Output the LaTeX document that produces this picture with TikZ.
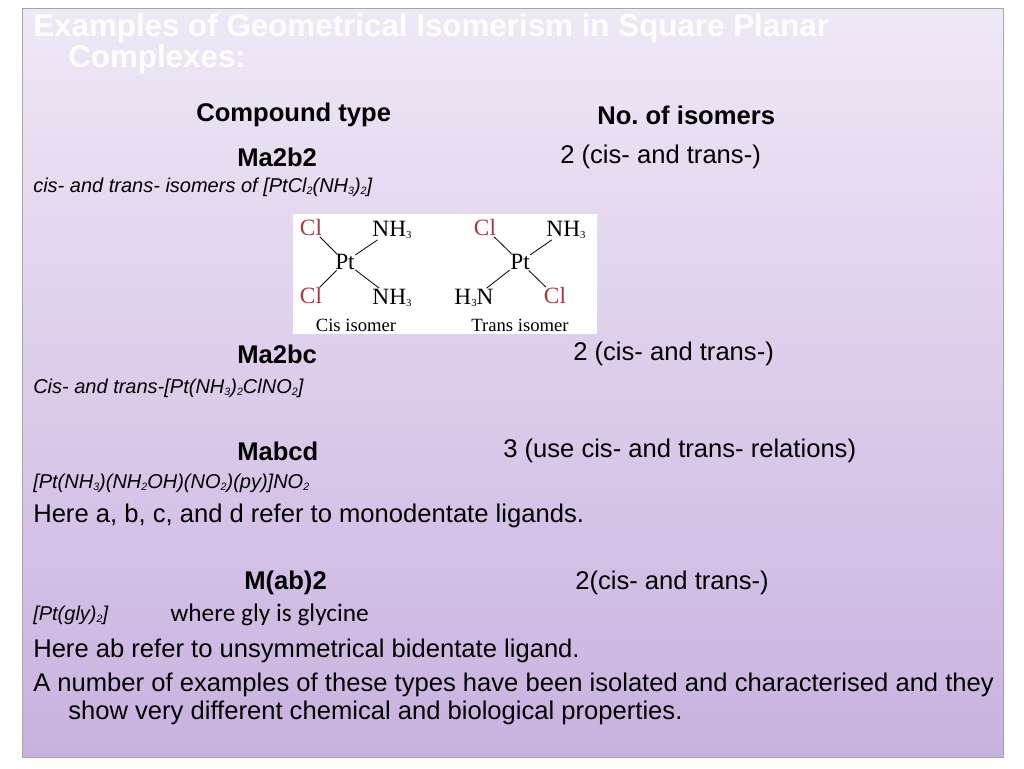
\documentclass[tikz,border=0pt]{standalone}
\usepackage{fontspec}
\setmainfont{Liberation Sans}
\newfontfamily\serifmol{Liberation Serif}
\newfontfamily\calib{Carlito}
\definecolor{bgtop}{HTML}{EFE8F6}
\definecolor{bgbot}{HTML}{C8B2DF}
\definecolor{clred}{HTML}{A33A44}
\tikzset{
 txt/.style={anchor=west,inner sep=0pt,font=\fontsize{19.2}{22}\selectfont},
 hdr/.style={txt,font=\fontsize{19.2}{22}\selectfont\bfseries},
 sm/.style={txt,font=\fontsize{15}{18}\selectfont\itshape},
 ttl/.style={txt,text=white,font=\fontsize{23.5}{26}\selectfont\bfseries},
 atom/.style={inner sep=1pt,font=\serifmol\fontsize{17.5}{19}\selectfont},
 cl/.style={atom,text=clred},
 molcap/.style={inner sep=0pt,font=\serifmol\fontsize{14}{16}\selectfont},
 bond/.style={line width=0.6pt,shorten <=-1pt,shorten >=-1pt}
}
\newcommand{\sbs}[1]{\raisebox{-0.25ex}{\footnotesize #1}}
\begin{document}
\begin{tikzpicture}[x=0.75pt,y=-0.75pt]
\useasboundingbox (0,0) rectangle (1024,768);
\fill[white] (0,0) rectangle (1024,768);
\shade[top color=bgtop,bottom color=bgbot,draw=gray!70] (22,8) rectangle (1003,757);
\node[ttl] (t1) at (33,28) {Examples of Geometrical Isomerism in Square Planar};
\node[ttl] (t2) at (68,59) {Complexes:};
\node[hdr] (h1) at (196,115) {Compound type};
\node[hdr] (h2) at (597,115) {No.\ of isomers};
\node[hdr] (a1) at (237,157) {Ma2b2};
\node[txt] (a2) at (560,157) {2 (cis- and trans-)};
\node[sm] (a3) at (33,187) {cis- and trans- isomers of [PtCl\sbs{2}(NH\sbs{3})\sbs{2}]};
\fill[white] (293,214) rectangle (597,334);
\node[atom] (pt1) at (345,262) {Pt};
\node[cl] (c1) at (311,228) {Cl};
\node[atom] (n1) at (392,230) {NH\sbs{3}};
\node[cl] (c2) at (311,296) {Cl};
\node[atom] (n2) at (392,298) {NH\sbs{3}};
\draw[bond] (pt1) -- (c1); \draw[bond] (pt1) -- (n1);
\draw[bond] (pt1) -- (c2); \draw[bond] (pt1) -- (n2);
\node[molcap] (k1) at (356,325) {Cis isomer};
\node[atom] (pt2) at (520,262) {Pt};
\node[cl] (c3) at (485,228) {Cl};
\node[atom] (n3) at (566,230) {NH\sbs{3}};
\node[atom] (n4) at (474,298) {H\sbs{3}N};
\node[cl] (c4) at (555,296) {Cl};
\draw[bond] (pt2) -- (c3); \draw[bond] (pt2) -- (n3);
\draw[bond] (pt2) -- (n4); \draw[bond] (pt2) -- (c4);
\node[molcap] (k2) at (520,325) {Trans isomer};
\node[hdr] (b1) at (237,354) {Ma2bc};
\node[txt] (b2) at (573,354) {2 (cis- and trans-)};
\node[sm] (b3) at (33,388) {Cis- and trans-[Pt(NH\sbs{3})\sbs{2}ClNO\sbs{2}]};
\node[hdr] (c5) at (237,451) {Mabcd};
\node[txt] (c6) at (503,451) {3 (use cis- and trans- relations)};
\node[sm] (c7) at (33,483) {[Pt(NH\sbs{3})(NH\sbs{2}OH)(NO\sbs{2})(py)]NO\sbs{2}};
\node[txt] (c8) at (33,516) {Here a, b, c, and d refer to monodentate ligands.};
\node[hdr] (d1) at (244,583) {M(ab)2};
\node[txt] (d2) at (575,583) {2(cis- and trans-)};
\node[sm] (d3) at (33,615) {[Pt(gly)\sbs{2}]};
\node[txt,font=\calib\fontsize{19}{22}\selectfont] (d4) at (170,615) {where gly is glycine};
\node[txt] (d5) at (33,651) {Here ab refer to unsymmetrical bidentate ligand.};
\node[txt] (d6) at (33,685) {A number of examples of these types have been isolated and characterised and they};
\node[txt] (d7) at (68,713) {show very different chemical and biological properties.};
\end{tikzpicture}
\end{document}
